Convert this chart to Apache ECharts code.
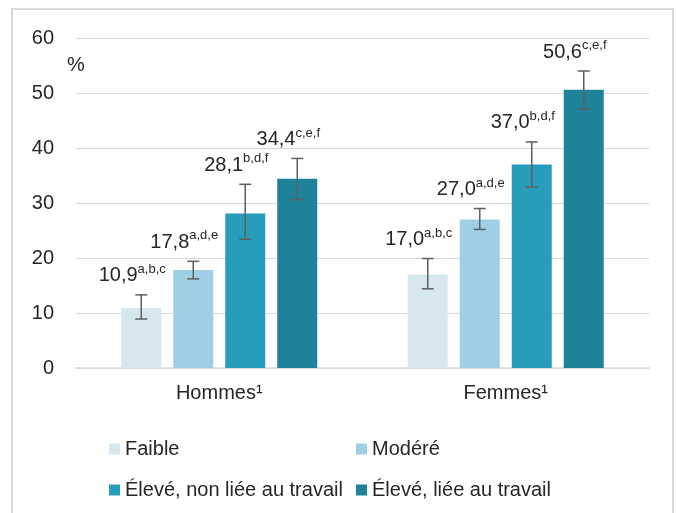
<!DOCTYPE html>
<html>
<head>
<meta charset="utf-8">
<script src="https://cdn.jsdelivr.net/npm/echarts@6/dist/echarts.min.js"></script>
<style>
html,body{margin:0;padding:0;background:#fff;}
#main{width:676px;height:513px;}
</style>
</head>
<body>
<div id="main"></div>
<script>
var categories = ['Hommes¹', 'Femmes¹'];
var seriesNames = ['Faible', 'Modéré', 'Élevé, non liée au travail', 'Élevé, liée au travail'];
var colors = ['#d6e8ee', '#9ecfe4', '#279dbc', '#1e8299'];

var faible = [10.9, 17.0];
var modere = [17.8, 27.0];
var eleveNonLiee = [28.1, 37.0];
var eleveLiee = [34.4, 50.6];

// intervalles de confiance
var faibleLow = [8.9, 14.4];
var faibleHigh = [13.3, 19.9];
var modereLow = [16.2, 25.2];
var modereHigh = [19.4, 29.0];
var eleveNonLieeLow = [23.4, 32.9];
var eleveNonLieeHigh = [33.4, 41.1];
var eleveLieeLow = [30.6, 47.1];
var eleveLieeHigh = [38.1, 54.0];

// exposants
var faibleSup = ['a,b,c', 'a,b,c'];
var modereSup = ['a,d,e', 'a,d,e'];
var eleveNonLieeSup = ['b,d,f', 'b,d,f'];
var eleveLieeSup = ['c,e,f', 'c,e,f'];

var values = [faible, modere, eleveNonLiee, eleveLiee];
var lows = [faibleLow, modereLow, eleveNonLieeLow, eleveLieeLow];
var highs = [faibleHigh, modereHigh, eleveNonLieeHigh, eleveLieeHigh];
var sups = [faibleSup, modereSup, eleveNonLieeSup, eleveLieeSup];

var barWidth = 40;
var barSpace = 12;
var fontFamily = '"Liberation Sans", Arial, sans-serif';

var errorData = [];
var labelTexts = [];
for (var s = 0; s < values.length; s++) {
    for (var c = 0; c < categories.length; c++) {
        errorData.push([c, s, lows[s][c], highs[s][c]]);
        labelTexts.push('{v|' + values[s][c].toFixed(1).replace('.', ',') + '}{s|' + sups[s][c] + '}');
    }
}

function renderError(params, api) {
    var cat = api.value(0);
    var s = api.value(1);
    var lowP = api.coord([cat, api.value(2)]);
    var highP = api.coord([cat, api.value(3)]);
    var x = lowP[0] + (s - 1.5) * (barWidth + barSpace);
    var cap = 6;
    var lineStyle = {stroke: '#5f5f5f', lineWidth: 1.5};
    return {
        type: 'group',
        children: [
            {type: 'line', shape: {x1: x, y1: lowP[1], x2: x, y2: highP[1]}, style: lineStyle},
            {type: 'line', shape: {x1: x - cap, y1: lowP[1], x2: x + cap, y2: lowP[1]}, style: lineStyle},
            {type: 'line', shape: {x1: x - cap, y1: highP[1], x2: x + cap, y2: highP[1]}, style: lineStyle},
            {
                type: 'text',
                style: {
                    x: x - 9,
                    y: highP[1] - 9,
                    text: labelTexts[params.dataIndex],
                    align: 'center',
                    verticalAlign: 'bottom',
                    rich: {
                        v: {fontSize: 20, fontFamily: fontFamily, fill: '#262626', color: '#262626', verticalAlign: 'bottom'},
                        s: {fontSize: 13, fontFamily: fontFamily, fill: '#262626', color: '#262626', padding: [0, 0, 10, 0], verticalAlign: 'bottom'}
                    }
                }
            }
        ]
    };
}

var series = [];
for (var i = 0; i < values.length; i++) {
    series.push({
        name: seriesNames[i],
        type: 'bar',
        data: values[i],
        barWidth: barWidth,
        barGap: (barSpace / barWidth * 100) + '%',
        itemStyle: {color: colors[i]},
        z: 2
    });
}
series.push({
    type: 'custom',
    renderItem: renderError,
    data: errorData,
    encode: {x: 0, y: [2, 3]},
    z: 5,
    silent: true
});

var myChart = echarts.init(document.getElementById('main'));
var option = {
    animation: false,
    backgroundColor: '#ffffff',
    color: colors,
    textStyle: {fontFamily: fontFamily},
    graphic: [{
        type: 'rect',
        shape: {x: 12, y: 9, width: 661, height: 520},
        style: {fill: 'none', stroke: '#d9d9d9', lineWidth: 2},
        silent: true
    }],
    grid: {
        left: 76,
        right: 27,
        top: 38,
        bottom: 145
    },
    legend: [{
        data: [seriesNames[0], seriesNames[2]],
        orient: 'vertical',
        left: 104,
        top: 434,
        itemWidth: 11,
        itemHeight: 11,
        itemGap: 21,
        icon: 'rect',
        textStyle: {fontSize: 20, color: '#262626', fontFamily: fontFamily}
    }, {
        data: [seriesNames[1], seriesNames[3]],
        orient: 'vertical',
        left: 351,
        top: 434,
        itemWidth: 11,
        itemHeight: 11,
        itemGap: 21,
        icon: 'rect',
        textStyle: {fontSize: 20, color: '#262626', fontFamily: fontFamily}
    }],
    xAxis: {
        type: 'category',
        data: categories,
        axisLine: {lineStyle: {color: '#d9d9d9', width: 1.5}},
        axisTick: {show: false},
        axisLabel: {fontSize: 20, color: '#262626', margin: 15, fontFamily: fontFamily}
    },
    yAxis: {
        type: 'value',
        min: 0,
        max: 60,
        interval: 10,
        name: '%',
        nameLocation: 'end',
        nameGap: -37,
        nameTextStyle: {fontSize: 20, color: '#262626', fontFamily: fontFamily, align: 'center'},
        axisLine: {show: false},
        axisTick: {show: false},
        splitLine: {lineStyle: {color: '#d9d9d9', width: 1.2}},
        axisLabel: {fontSize: 20, color: '#262626', margin: 22, fontFamily: fontFamily}
    },
    series: series
};
myChart.setOption(option);
</script>
</body>
</html>
